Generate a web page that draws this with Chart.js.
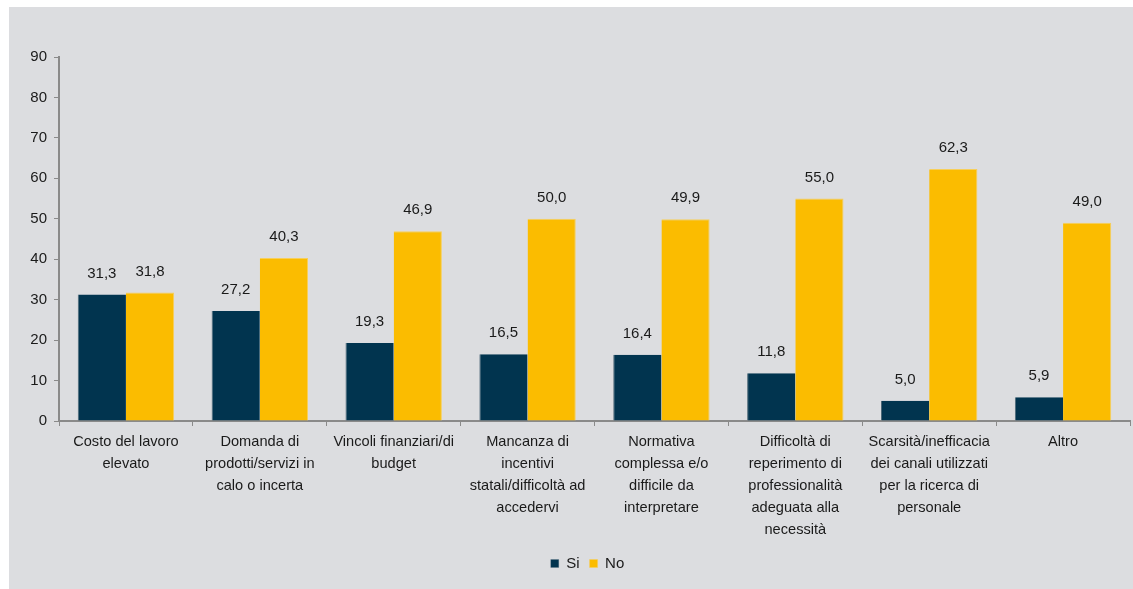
<!DOCTYPE html>
<html>
<head>
<meta charset="utf-8">
<script src="https://cdn.jsdelivr.net/npm/chart.js@4/dist/chart.umd.min.js"></script>
<style>
  html, body { margin: 0; padding: 0; background: #ffffff; }
  #wrap {
    position: absolute; left: 9px; top: 7px;
    width: 1124px; height: 582px;
    background: #dcdde0;
  }
</style>
</head>
<body>
<div id="wrap"><canvas id="chart" width="1124" height="582"></canvas></div>
<script>
"use strict";

// Categories (multi-line labels as in the original)
const categories = [
  ["Costo del lavoro", "elevato"],
  ["Domanda di", "prodotti/servizi in", "calo o incerta"],
  ["Vincoli finanziari/di", "budget"],
  ["Mancanza di", "incentivi", "statali/difficoltà ad", "accedervi"],
  ["Normativa", "complessa e/o", "difficile da", "interpretare"],
  ["Difficoltà di", "reperimento di", "professionalità", "adeguata alla", "necessità"],
  ["Scarsità/inefficacia", "dei canali utilizzati", "per la ricerca di", "personale"],
  ["Altro"]
];

// Series values
const siValues = [31.3, 27.2, 19.3, 16.5, 16.4, 11.8, 5.0, 5.9];
const noValues = [31.8, 40.3, 46.9, 50.0, 49.9, 55.0, 62.3, 49.0];

// Axis range
const yMin = 0;
const yMax = 90;
const yStep = 10;

const textColor = "#1a1a1a";
const axisColor = "#8a8a8a";
const fontFamily = "'Liberation Sans', Arial, sans-serif";

// Draws the value above each bar, with a comma as decimal separator
const valueLabels = {
  id: "valueLabels",
  afterDatasetsDraw(chart) {
    const ctx = chart.ctx;
    ctx.save();
    ctx.font = "15px " + fontFamily;
    ctx.fillStyle = textColor;
    ctx.textAlign = "center";
    ctx.textBaseline = "middle";
    chart.data.datasets.forEach((ds, i) => {
      chart.getDatasetMeta(i).data.forEach((bar, j) => {
        const txt = ds.data[j].toFixed(1).replace(".", ",");
        ctx.fillText(txt, bar.x, bar.y - 21);
      });
    });
    ctx.restore();
  }
};

// Nudge the legend a bit to the right, as in the original
const legendShift = {
  id: "legendShift",
  afterLayout(chart) {
    if (chart.legend) {
      chart.legend.left += 18;
      chart.legend.right += 18;
    }
  }
};

new Chart(document.getElementById("chart"), {
  type: "bar",
  data: {
    labels: categories,
    datasets: [
      {
        label: "Si",
        data: siValues,
        backgroundColor: "#01344f",
        borderColor: "#4d6878",
        borderWidth: { left: 1, right: 0, top: 0, bottom: 0 },
        categoryPercentage: 0.72,
        barPercentage: 1.0
      },
      {
        label: "No",
        data: noValues,
        backgroundColor: "#fbbc00",
        borderColor: "#f7cf5a",
        borderWidth: { left: 0, right: 1, top: 1, bottom: 0 },
        categoryPercentage: 0.72,
        barPercentage: 1.0
      }
    ]
  },
  options: {
    responsive: false,
    animation: false,
    layout: { padding: { top: 50, right: 3, bottom: 8, left: 0 } },
    plugins: {
      tooltip: { enabled: false },
      legend: {
        position: "bottom",
        labels: {
          boxWidth: 8,
          boxHeight: 8,
          padding: 10,
          color: textColor,
          font: { family: fontFamily, size: 15 }
        }
      }
    },
    scales: {
      x: {
        offset: true,
        grid: {
          offset: true,
          drawOnChartArea: false,
          drawTicks: true,
          tickLength: 5,
          color: axisColor
        },
        border: { color: axisColor, width: 2 },
        ticks: {
          autoSkip: false,
          maxRotation: 0,
          minRotation: 0,
          padding: 5,
          color: textColor,
          font: { family: fontFamily, size: 14.6, lineHeight: 1.5 }
        },
        afterFit(scale) { scale.height = 125; }
      },
      y: {
        min: yMin,
        max: yMax,
        grid: {
          drawOnChartArea: false,
          drawTicks: true,
          tickLength: 5,
          color: axisColor
        },
        border: { color: axisColor, width: 2 },
        ticks: {
          stepSize: yStep,
          padding: 7,
          color: textColor,
          font: { family: fontFamily, size: 15 }
        },
        afterFit(scale) { scale.width = 50; }
      }
    }
  },
  plugins: [valueLabels, legendShift]
});
</script>
</body>
</html>
